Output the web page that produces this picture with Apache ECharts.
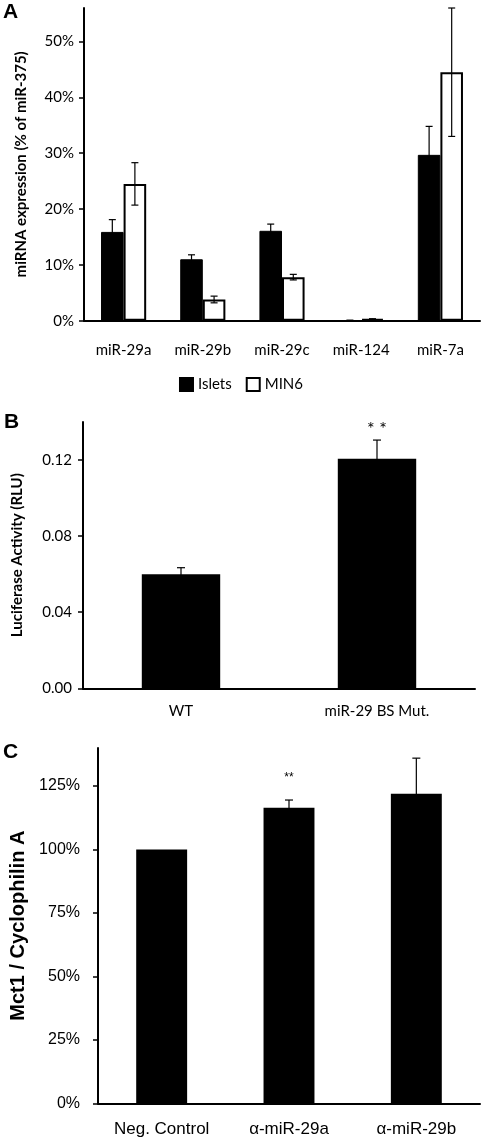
<!DOCTYPE html>
<html><head><meta charset="utf-8">
<script src="https://cdn.jsdelivr.net/npm/echarts@6/dist/echarts.min.js"></script>
<style>html,body{margin:0;padding:0;background:#fff}#c{width:482px;height:1140px}</style>
</head><body><div id="c"></div>
<script>
// Panel A data
const catsA = ['miR-29a','miR-29b','miR-29c','miR-124','miR-7a'];
const isletsA = [15.9, 11.0, 16.1, 0.05, 29.7];
const isletsErrA = [2.2, 0.8, 1.2, 0.05, 5.1];
const min6A = [24.5, 3.8, 7.8, 0.3, 44.5];
const min6ErrA = [3.8, 0.6, 0.5, 0.05, 11.5];
const ticksA = [0, 10, 20, 30, 40, 50];
// Panel B data
const catsB = ['WT', 'miR-29 BS Mut.'];
const valsB = [0.060, 0.1207];
const errB = [0.0034, 0.0098];
const ticksB = [0, 0.04, 0.08, 0.12];
// Panel C data
const catsC = ['Neg. Control', 'α-miR-29a', 'α-miR-29b'];
const valsC = [100, 116.5, 122.0];
const errC = [0, 3.0, 14.0];
const ticksC = [0, 25, 50, 75, 100, 125];

const calibri = 'Lato';
const arial = 'Liberation Sans';

function errSeries(xi, yi, vals, errs, offFrac, capHalf, z) {
  return {
    type: 'custom', xAxisIndex: xi, yAxisIndex: yi, z: z || 5,
    silent: true,
    data: vals.map((v, i) => [i, v, errs[i]]),
    encode: { x: 0, y: 1 },
    renderItem: function (params, api) {
      const i = api.value(0), v = api.value(1), e = api.value(2);
      if (!e) return null;
      const c = api.coord([i, v]);
      const band = api.size([1, 0])[0];
      const x = c[0] + band * offFrac;
      const top = api.coord([i, v + e])[1];
      const bot = api.coord([i, Math.max(0, v - e)])[1];
      const st = { stroke: '#000', lineWidth: 1.2 };
      return { type: 'group', children: [
        { type: 'line', shape: { x1: x, y1: top, x2: x, y2: bot }, style: st },
        { type: 'line', shape: { x1: x - capHalf, y1: top, x2: x + capHalf, y2: top }, style: st },
        { type: 'line', shape: { x1: x - capHalf, y1: bot, x2: x + capHalf, y2: bot }, style: st }
      ]};
    }
  };
}

const axisLineStyle = { lineStyle: { color: '#000', width: 2 } };
const tickStyle = { lineStyle: { color: '#000', width: 1.5 } };

const option = {
  animation: false,
  backgroundColor: '#fff',
  legend: {
    top: 372, left: 'center', itemWidth: 13, itemHeight: 13, itemGap: 14,
    icon: 'rect',
    textStyle: { fontFamily: calibri, fontSize: 15, color: '#000' },
    data: ['Islets', 'MIN6']
  },
  graphic: [
    { type: 'text', left: 3, top: 2, style: { text: 'A', font: 'bold 21px "Liberation Sans"', fill: '#000' } },
    { type: 'text', left: 4, top: 412, style: { text: 'B', font: 'bold 21px "Liberation Sans"', fill: '#000' } },
    { type: 'text', left: 3, top: 742, style: { text: 'C', font: 'bold 21px "Liberation Sans"', fill: '#000' } }
  ],
  grid: [
    { left: 84, top: 8, right: 2, height: 312.7 },
    { left: 83, top: 422, right: 7, height: 266.3 },
    { left: 97.7, top: 748, right: 2, height: 355.3 }
  ],
  xAxis: [
    { gridIndex: 0, type: 'category', data: catsA,
      axisLine: axisLineStyle, axisTick: Object.assign({ length: 5 }, tickStyle),
      axisLabel: { margin: 22, color: '#000', fontFamily: calibri, fontSize: 15 } },
    { gridIndex: 1, type: 'category', data: catsB,
      axisLine: axisLineStyle, axisTick: Object.assign({ length: 5 }, tickStyle),
      axisLabel: { margin: 15, color: '#000', fontFamily: calibri, fontSize: 15 } },
    { gridIndex: 2, type: 'category', data: catsC,
      axisLine: axisLineStyle, axisTick: Object.assign({ length: 5 }, tickStyle),
      axisLabel: { margin: 18, color: '#000', fontFamily: arial, fontSize: 17 } }
  ],
  yAxis: [
    { gridIndex: 0, type: 'value', min: 0, max: 56, interval: 10,
      name: 'miRNA expression (% of miR-375)', nameLocation: 'middle', nameGap: 55,
      nameTextStyle: { fontFamily: calibri, fontWeight: 'bold', fontSize: 15, color: '#000' },
      splitLine: { show: false },
      axisLine: { show: true, lineStyle: { color: '#000', width: 2 } },
      axisTick: Object.assign({ show: true, length: 5, customValues: ticksA }, tickStyle),
      axisLabel: { customValues: ticksA, margin: 10, formatter: '{value}%', color: '#000', fontFamily: calibri, fontSize: 15 } },
    { gridIndex: 1, type: 'value', min: 0, max: 0.14, interval: 0.04,
      name: 'Luciferase Activity (RLU)', nameLocation: 'middle', nameGap: 58,
      nameTextStyle: { fontFamily: calibri, fontWeight: 'bold', fontSize: 15, color: '#000' },
      splitLine: { show: false },
      axisLine: { show: true, lineStyle: { color: '#000', width: 2 } },
      axisTick: Object.assign({ show: true, length: 5, customValues: ticksB }, tickStyle),
      axisLabel: { customValues: ticksB, margin: 11, formatter: v => v.toFixed(2), color: '#000', fontFamily: calibri, fontSize: 15 } },
    { gridIndex: 2, type: 'value', min: 0, max: 140, interval: 25,
      name: 'Mct1 / Cyclophilin A', nameLocation: 'middle', nameGap: 70,
      nameTextStyle: { fontFamily: arial, fontWeight: 'bold', fontSize: 20, color: '#000' },
      splitLine: { show: false },
      axisLine: { show: true, lineStyle: { color: '#000', width: 2 } },
      axisTick: Object.assign({ show: true, length: 5, customValues: ticksC }, tickStyle),
      axisLabel: { customValues: ticksC, margin: 18, formatter: '{value}%', color: '#000', fontFamily: arial, fontSize: 16 } }
  ],
  series: [
    { name: 'Islets', type: 'bar', xAxisIndex: 0, yAxisIndex: 0, data: isletsA,
      barWidth: '28.5%', barGap: '0%',
      itemStyle: { color: '#000', borderColor: '#000', borderWidth: 1 } },
    { name: 'MIN6', type: 'bar', xAxisIndex: 0, yAxisIndex: 0, data: min6A,
      barWidth: '28.5%', barGap: '0%',
      itemStyle: { color: '#fff', borderColor: '#000', borderWidth: 2 } },
    errSeries(0, 0, isletsA, isletsErrA, -0.1425, 3.5),
    errSeries(0, 0, min6A, min6ErrA, 0.1425, 3.5),
    { name: 'B', type: 'bar', xAxisIndex: 1, yAxisIndex: 1, data: valsB, barWidth: '40%',
      itemStyle: { color: '#000' },
      markPoint: { symbol: 'circle', symbolSize: 0,
        data: [{ coord: [1, 0.1305], value: '**' }],
        label: { show: true, position: 'top', distance: 2, formatter: '* *', fontFamily: calibri, fontSize: 18, color: '#000' } } },
    errSeries(1, 1, valsB, errB, 0, 4),
    { name: 'C', type: 'bar', xAxisIndex: 2, yAxisIndex: 2, data: valsC, barWidth: '40%',
      itemStyle: { color: '#000' },
      markPoint: { symbol: 'circle', symbolSize: 0,
        data: [{ coord: [1, 119.5], value: '**' }],
        label: { show: true, position: 'top', distance: 16, formatter: '**', fontFamily: arial, fontSize: 12, color: '#000' } } },
    errSeries(2, 2, valsC, errC, 0, 4)
  ]
};
const chart = echarts.init(document.getElementById('c'), null, { renderer: 'canvas' });
chart.setOption(option);
</script>
</body></html>
